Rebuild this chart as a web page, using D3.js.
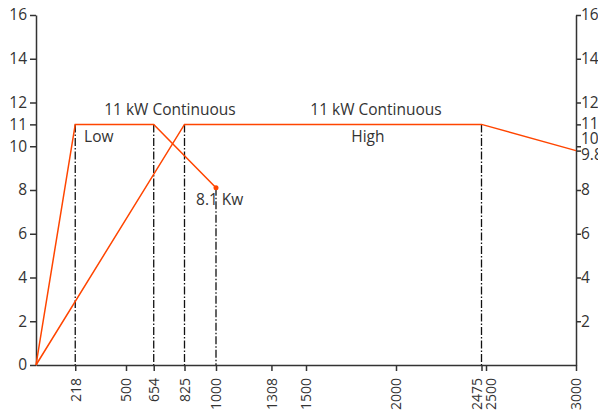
<!DOCTYPE html>
<html>
<head>
<meta charset="utf-8">
<script src="https://cdn.jsdelivr.net/npm/d3@7"></script>
<style>
  body { margin: 0; background: #fff; }
  text { font-family: "Open Sans", "Noto Sans", sans-serif; fill: #333; }
  .axis path, .axis line { stroke: #333; stroke-width: 1.5; }
</style>
</head>
<body>
<div id="chart"></div>
<script>
// data
var lowX = [0, 218, 654, 1000];
var lowY = [0, 11, 11, 8.1];
var highX = [0, 825, 2475, 3000];
var highY = [0, 11, 11, 9.8];
var guideX = [218, 654, 825, 1000, 2475];
var guideY = [11, 11, 11, 8.1, 11];
var xTicks = [218, 500, 654, 825, 1000, 1308, 1500, 2000, 2475, 2500, 3000];
var yTicksLeft = [0, 2, 4, 6, 8, 10, 11, 12, 14, 16];
var yTicksRight = [2, 4, 6, 8, 9.8, 10, 11, 12, 14, 16];
var notes = [
  {text: "11 kW Continuous", x: 744, y: 11.45, anchor: "middle"},
  {text: "11 kW Continuous", x: 1889, y: 11.45, anchor: "middle"},
  {text: "Low", x: 267, y: 10.2, anchor: "start"},
  {text: "High", x: 1844, y: 10.2, anchor: "middle"},
  {text: "8.1 Kw", x: 889, y: 7.3, anchor: "start"}
];

var width = 598, height = 412;
var margin = {top: 15, right: 22, bottom: 47, left: 36};

var svg = d3.select("#chart").append("svg")
  .attr("width", width)
  .attr("height", height);

var g = svg.append("g").attr("transform", "translate(" + margin.left + "," + margin.top + ")");

var w = width - margin.left - margin.right;
var h = height - margin.top - margin.bottom;

var x = d3.scaleLinear().domain([0, 3000]).range([0, w]);
var y = d3.scaleLinear().domain([0, 16]).range([h, 0]);

// dash-dot guides
g.selectAll(".guide")
  .data(guideX)
  .enter().append("line")
  .attr("class", "guide")
  .attr("x1", function(d) { return x(d); })
  .attr("x2", function(d) { return x(d); })
  .attr("y1", function(d, i) { return y(guideY[i]); })
  .attr("y2", y(0))
  .attr("stroke", "#111")
  .attr("stroke-width", 1.3)
  .attr("stroke-dasharray", "8,2,1.5,2");

// x axis
var xAxis = g.append("g")
  .attr("class", "axis")
  .attr("transform", "translate(0," + h + ")")
  .call(d3.axisBottom(x).tickValues(xTicks).tickSize(6).tickSizeOuter(0).tickFormat(d3.format("d")));
xAxis.selectAll("text")
  .attr("transform", "rotate(-90)")
  .attr("x", -13)
  .attr("y", 0)
  .attr("dy", "0.35em")
  .style("text-anchor", "end")
  .style("font-size", "14px");
xAxis.selectAll(".tick").filter(function(d) { return d === 2475; }).select("text").attr("y", -5);
xAxis.selectAll(".tick").filter(function(d) { return d === 2500; }).select("text").attr("y", 5);
xAxis.selectAll(".tick line").filter(function(d) { return d === 2475; }).attr("stroke", "#ff4500");

// left axis
var yAxisL = g.append("g")
  .attr("class", "axis")
  .call(d3.axisLeft(y).tickValues(yTicksLeft).tickSize(6).tickSizeOuter(0).tickFormat(d3.format("d")));
yAxisL.selectAll("text").style("font-size", "15.5px").attr("x", -9);

// right axis
var yAxisR = g.append("g")
  .attr("class", "axis")
  .attr("transform", "translate(" + w + ",0)")
  .call(d3.axisRight(y).tickValues(yTicksRight).tickSize(5).tickSizeOuter(0).tickFormat(function(d) { return String(d); }));
yAxisR.selectAll("text").style("font-size", "15.5px").attr("x", 5);
yAxisR.selectAll(".tick").filter(function(d) { return d === 11; }).select("text").attr("dy", "0.25em");
yAxisR.selectAll(".tick").filter(function(d) { return d === 10; }).select("text").attr("dy", "-0.2em");
yAxisR.selectAll(".tick").filter(function(d) { return d === 9.8; }).select("text").attr("dy", "0.6em");

// lines
var line = d3.line()
  .x(function(d) { return x(d[0]); })
  .y(function(d) { return y(d[1]); });

var lowData = lowX.map(function(v, i) { return [v, lowY[i]]; });
var highData = highX.map(function(v, i) { return [v, highY[i]]; });

[lowData, highData].forEach(function(s) {
  g.append("path")
    .datum(s)
    .attr("d", line)
    .attr("fill", "none")
    .attr("stroke", "#ff4500")
    .attr("stroke-width", 1.5);
});

g.append("circle")
  .attr("cx", x(lowX[3]))
  .attr("cy", y(lowY[3]))
  .attr("r", 2.5)
  .attr("fill", "#ff4500");

// annotations
g.selectAll(".note")
  .data(notes)
  .enter().append("text")
  .attr("class", "note")
  .attr("x", function(d) { return x(d.x); })
  .attr("y", function(d) { return y(d.y); })
  .attr("text-anchor", function(d) { return d.anchor; })
  .style("font-size", "15.5px")
  .text(function(d) { return d.text; });
</script>
</body>
</html>
